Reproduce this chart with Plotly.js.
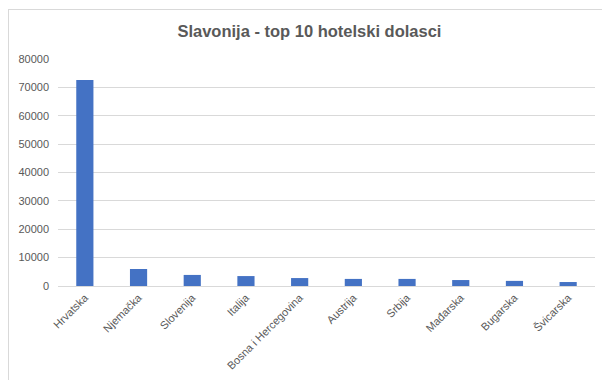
<!DOCTYPE html>
<html>
<head>
<meta charset="utf-8">
<script src="https://cdn.plot.ly/plotly-3.0.1.min.js"></script>
<style>
html,body{margin:0;padding:0;background:#fff;}
#wrap{position:relative;width:602px;height:380px;overflow:hidden;}
#chart{position:absolute;left:0;top:0;width:602px;height:380px;}
#frame{position:absolute;left:8px;top:9px;width:600px;height:380px;border-top:1px solid #d9d9d9;border-left:1px solid #d9d9d9;pointer-events:none;}
</style>
</head>
<body>
<div id="wrap"><div id="chart"></div><div id="frame"></div></div>
<script>
const categories = ["Hrvatska","Njemačka","Slovenija","Italija","Bosna i Hercegovina","Austrija","Srbija","Mađarska","Bugarska","Švicarska"];
const arrivals = [72600, 6000, 3900, 3500, 2800, 2500, 2500, 2100, 1800, 1400];
const yTicks = [0,10000,20000,30000,40000,50000,60000,70000,80000];

const trace = {
  type: 'bar',
  x: categories,
  y: arrivals,
  marker: {color: '#4472C4'},
  hoverinfo: 'x+y'
};

const layout = {
  width: 602, height: 380,
  paper_bgcolor: '#ffffff', plot_bgcolor: '#ffffff',
  margin: {l: 58, r: 7, t: 59, b: 94},
  bargap: 0.68,
  showlegend: false,
  font: {family: 'Liberation Sans, Arial, sans-serif', color: '#595959', size: 11},
  title: {
    text: 'Slavonija - top 10 hotelski dolasci',
    font: {family: 'Liberation Sans, Arial, sans-serif', size: 16.5, color: '#595959', weight: 'bold'},
    x: 0.514, xanchor: 'center', xref: 'container', y: 0.918, yanchor: 'middle', yref: 'container'
  },
  xaxis: {
    type: 'category',
    tickangle: -45,
    showgrid: false,
    showline: true, linecolor: '#d9d9d9', linewidth: 1,
    ticks: '',
    tickfont: {size: 11, color: '#595959'},
    fixedrange: true
  },
  yaxis: {
    range: [0, 80000],
    tickmode: 'array',
    tickvals: yTicks,
    ticktext: yTicks.map(String),
    showgrid: true, gridcolor: '#d9d9d9', gridwidth: 1,
    zeroline: false,
    showline: false,
    ticks: '',
    ticklabelstandoff: 8,
    tickfont: {size: 11, color: '#595959'},
    fixedrange: true
  }
};

Plotly.newPlot('chart', [trace], layout, {displayModeBar: false, staticPlot: true});
</script>
</body>
</html>
